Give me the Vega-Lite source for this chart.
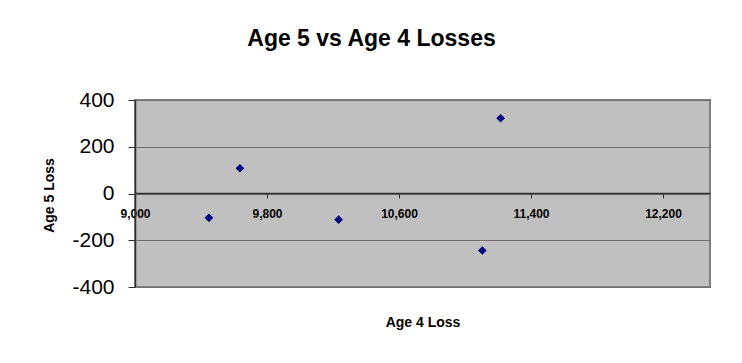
{
  "$schema": "https://vega.github.io/schema/vega-lite/v6.json",
  "autosize": "none",
  "width": 575,
  "height": 187,
  "padding": {"left": 135, "top": 100, "right": 32, "bottom": 76},
  "background": "white",
  "title": {
    "text": "Age 5 vs Age 4 Losses",
    "font": "Liberation Sans",
    "fontSize": 23,
    "fontWeight": "bold",
    "color": "black",
    "anchor": "middle",
    "dx": -51,
    "baseline": "alphabetic",
    "offset": 20
  },
  "data": {
    "values": [
      {"age4": 9448, "age5": -104},
      {"age4": 9636, "age5": 108},
      {"age4": 10234, "age5": -112},
      {"age4": 11105, "age5": -244},
      {"age4": 11216, "age5": 322}
    ]
  },
  "mark": {"type": "point", "shape": "diamond", "filled": true, "color": "#000080", "size": 75, "opacity": 1},
  "encoding": {
    "x": {
      "field": "age4",
      "type": "quantitative",
      "scale": {"domain": [9000, 12485], "nice": false, "zero": false},
      "axis": {
        "title": "Age 4 Loss",
        "values": [9000, 9800, 10600, 11400, 12200],
        "labelExpr": "format(datum.value, ',.0f')",
        "offset": -94,
        "grid": false,
        "domainColor": "#303030",
        "domainWidth": 1.5,
        "tickColor": "#303030",
        "tickSize": 5,
        "labelFont": "Liberation Sans",
        "labelFontSize": 12,
        "labelFontWeight": "bold",
        "labelColor": "black",
        "labelBaseline": "middle",
        "labelPadding": 15,
        "labelFlush": false,
        "titleFont": "Liberation Sans",
        "titleFontSize": 14,
        "titleFontWeight": "bold",
        "titleColor": "black",
        "titleBaseline": "middle",
        "titleY": 129,
        "titleX": 287.5
      }
    },
    "y": {
      "field": "age5",
      "type": "quantitative",
      "scale": {"domain": [-400, 400], "nice": false},
      "axis": {
        "title": "Age 5 Loss",
        "values": [-400, -200, 0, 200, 400],
        "labelExpr": "'' + datum.value",
        "grid": true,
        "gridColor": "#707070",
        "gridWidth": 1.2,
        "domainColor": "#303030",
        "domainWidth": 1.5,
        "tickColor": "#303030",
        "tickSize": 7,
        "labelFont": "Liberation Sans",
        "labelFontSize": 21,
        "labelColor": "black",
        "labelPadding": 14,
        "labelFlush": false,
        "titleFont": "Liberation Sans",
        "titleFontSize": 14,
        "titleFontWeight": "bold",
        "titleColor": "black",
        "titleAngle": -90,
        "titleAlign": "center",
        "titleBaseline": "middle",
        "titleX": -86,
        "titleY": 95
      }
    }
  },
  "config": {
    "view": {"fill": "#C0C0C0", "stroke": "#808080", "strokeWidth": 2}
  }
}
